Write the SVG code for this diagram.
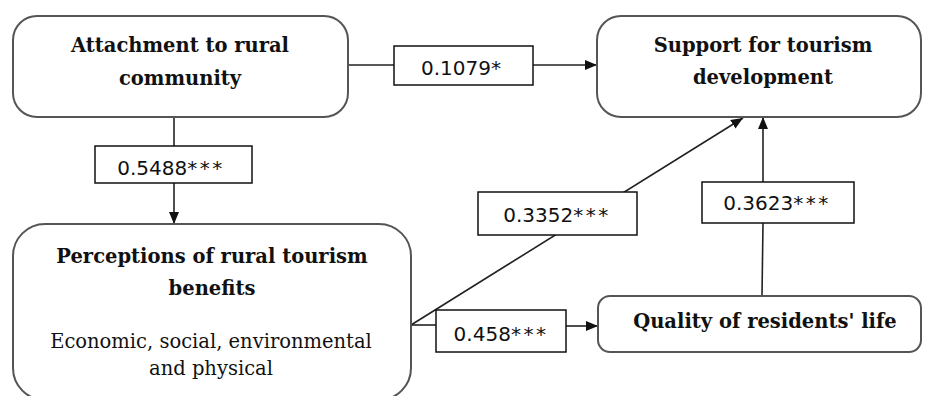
<svg xmlns="http://www.w3.org/2000/svg" width="927" height="396" viewBox="0 0 927 396">
<defs>
<marker id="arr" viewBox="0 0 12 10" refX="12" refY="5" markerWidth="12" markerHeight="10" markerUnits="userSpaceOnUse" orient="auto">
<path d="M0,0 L12,5 L0,10 Z" fill="#111"/>
</marker>
<style>
.node{fill:#fff;stroke:#555;stroke-width:2}
.lbl{fill:#fff;stroke:#111;stroke-width:1.5}
.t{font-family:"DejaVu Serif",serif;font-weight:bold;font-size:19.5px;fill:#111;text-anchor:middle}
.r{font-family:"DejaVu Serif",serif;font-size:19.5px;fill:#111;text-anchor:middle}
.n{font-family:"DejaVu Sans",sans-serif;font-size:20px;fill:#111;text-anchor:middle}
.s{letter-spacing:2.5px}
.c{fill:none;stroke:#222;stroke-width:1.6}
</style>
</defs>
<rect width="927" height="396" fill="#fff"/>
<g id="connectors">
<line class="c" x1="348" y1="65" x2="394" y2="65"/>
<line class="c" x1="533" y1="65" x2="597" y2="65" marker-end="url(#arr)"/>
<line class="c" x1="174" y1="117" x2="174" y2="146"/>
<line class="c" x1="174" y1="183" x2="174" y2="224" marker-end="url(#arr)"/>
<line class="c" x1="411" y1="325" x2="743" y2="118" marker-end="url(#arr)"/>
<line class="c" x1="411" y1="325" x2="436" y2="325"/>
<line class="c" x1="566" y1="326" x2="598" y2="326" marker-end="url(#arr)"/>
<line class="c" x1="762" y1="296" x2="763" y2="223"/>
<line class="c" x1="763" y1="182" x2="763" y2="117" marker-end="url(#arr)"/>
</g>
<g id="attachment">
<rect class="node" x="13" y="16" width="335" height="101" rx="24"/>
<text class="t" x="180" y="52">Attachment to rural</text>
<text class="t" x="180" y="85">community</text>
</g>
<g id="support">
<rect class="node" x="597" y="16" width="324" height="101" rx="24"/>
<text class="t" x="763" y="52">Support for tourism</text>
<text class="t" x="763" y="84">development</text>
</g>
<g id="perceptions">
<rect class="node" x="13" y="224" width="398" height="176" rx="32"/>
<text class="t" x="212" y="263">Perceptions of rural tourism</text>
<text class="t" x="212" y="295">benefits</text>
<text class="r" x="211" y="348">Economic, social, environmental</text>
<text class="r" x="211" y="375">and physical</text>
</g>
<g id="quality">
<rect class="node" x="598" y="296" width="323" height="56" rx="12"/>
<text class="t" x="765" y="328">Quality of residents' life</text>
</g>
<g id="label-01079">
<rect class="lbl" x="394" y="46" width="139" height="39"/>
<text class="n" x="461" y="75">0.1079*</text>
</g>
<g id="label-05488">
<rect class="lbl" x="95" y="146" width="157" height="37"/>
<text class="n" x="171" y="175">0.5488<tspan class="s">***</tspan></text>
</g>
<g id="label-03352">
<rect class="lbl" x="478" y="192" width="159" height="43"/>
<text class="n" x="557" y="222">0.3352<tspan class="s">***</tspan></text>
</g>
<g id="label-03623">
<rect class="lbl" x="702" y="182" width="152" height="41"/>
<text class="n" x="777" y="210">0.3623<tspan class="s">***</tspan></text>
</g>
<g id="label-0458">
<rect class="lbl" x="436" y="310" width="130" height="42"/>
<text class="n" x="501" y="341">0.458<tspan class="s">***</tspan></text>
</g>
</svg>
